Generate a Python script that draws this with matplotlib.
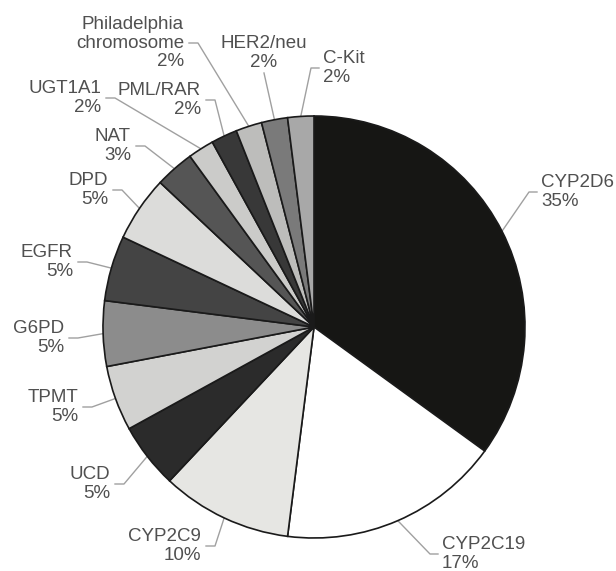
import numpy as np
import matplotlib
matplotlib.use("Agg")
from matplotlib import pyplot as plt

genes = ["CYP2D6", "CYP2C19", "CYP2C9", "UCD", "TPMT", "G6PD", "EGFR", "DPD",
         "NAT", "UGT1A1", "PML/RAR", "Philadelphia\nchromosome", "HER2/neu", "C-Kit"]
pct = [35, 17, 10, 5, 5, 5, 5, 5, 3, 2, 2, 2, 2, 2]
colores = ["#161614", "#ffffff", "#e6e6e3", "#2b2b2b", "#d2d2d0", "#8c8c8c", "#444444",
           "#dcdcda", "#555555", "#cbcbc9", "#383838", "#bdbdbb", "#7a7a7a", "#a8a8a8"]

# posicion de las etiquetas en pixeles de la imagen (x, y centro, alineacion)
pos_texto = [(541, 192, "left"), (442, 554, "left"), (201, 546, "right"),
             (110, 484, "right"), (78, 407, "right"), (64, 338, "right"),
             (73, 262, "right"), (108, 190, "right"), (131, 146, "right"),
             (101, 98, "right"), (201, 100, "right"), (184, 43, "right"),
             (264, 53, "center"), (323, 68, "left")]

W, H = 616, 571
cx, cy, R = 314, H - 327, 211

plt.rcParams['font.family'] = ['Liberation Sans', 'DejaVu Sans']
fig = plt.figure(figsize=(W / 100, H / 100), dpi=100)
ax = fig.add_axes([0, 0, 1, 1])

wedges, _ = ax.pie(pct, colors=colores, startangle=90, counterclock=False,
                   center=(cx, cy), radius=R, frame=True,
                   wedgeprops=dict(edgecolor="#1a1a1a", linewidth=1.2))
ax.set_xlim(0, W)
ax.set_ylim(0, H)
ax.set_aspect("equal")
ax.axis("off")

for w, nombre, p, (tx, ty, ha) in zip(wedges, genes, pct, pos_texto):
    ang = np.deg2rad((w.theta1 + w.theta2) / 2)
    ex = cx + R * np.cos(ang)
    ey = cy + R * np.sin(ang)
    ty = H - ty
    if ha == "left":
        fx = tx - 4
        bx = fx - 8
    elif ha == "right":
        fx = tx + 5
        bx = fx + 9
    if ha == "center":
        ax.plot([ex, tx], [ey, ty - 20], color="#a0a0a0", lw=1, zorder=0)
    else:
        ax.plot([ex, bx, fx], [ey, ty, ty], color="#a0a0a0", lw=1, zorder=0)
    ax.text(tx, ty, f"{nombre}\n{p}%", ha=ha, va="center", multialignment=ha,
            fontsize=13.5, color="#505050", linespacing=1.1)

fig.savefig("out.png", dpi=100)
